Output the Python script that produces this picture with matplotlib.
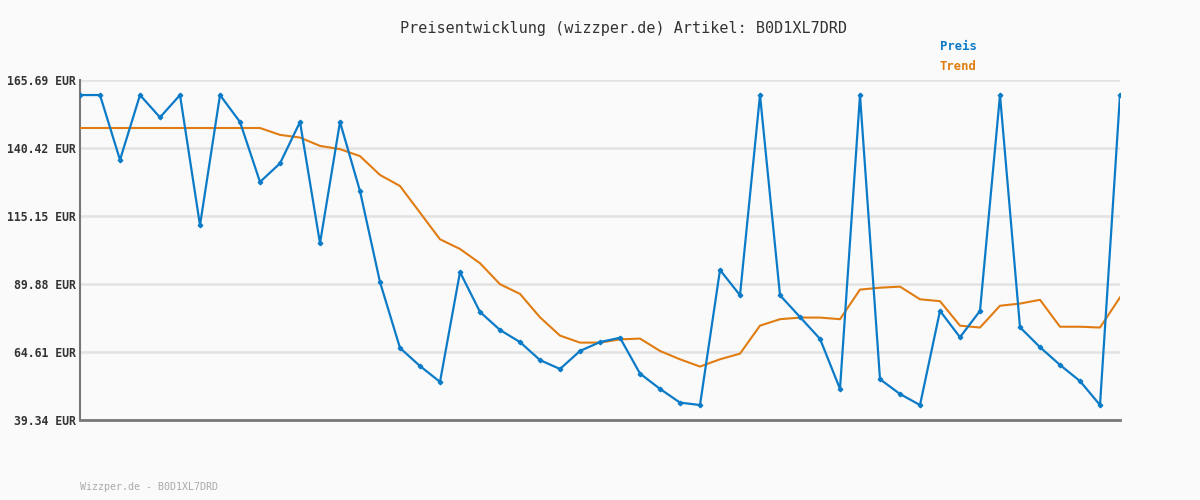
import numpy as np
import matplotlib
matplotlib.use("Agg")
import matplotlib.pyplot as plt

# price values (EUR), one per sample
preis = [160.1, 160.1, 136.0, 160.1, 151.8, 160.1, 111.7, 160.1, 150.1, 127.8,
         134.7, 150.1, 105.0, 150.1, 124.4, 90.6, 66.1, 59.4, 53.5, 94.3,
         79.5, 72.8, 68.3, 61.6, 58.3, 65.0, 68.3, 69.9, 56.6, 50.9,
         45.8, 44.9, 95.1, 85.7, 160.1, 85.7, 77.6, 69.5, 50.9, 160.1,
         54.5, 49.0, 44.9, 79.9, 70.1, 79.9, 160.1, 73.8, 66.4, 59.8,
         53.8, 44.9, 160.1]
trend = [147.85, 147.85, 147.85, 147.85, 147.85, 147.85, 147.85, 147.85, 147.85, 147.85,
         145.3, 144.3, 141.2, 140.0, 137.4, 130.4, 126.3, 116.4, 106.5, 102.9,
         97.6, 89.8, 86.2, 77.5, 70.7, 68.1, 68.1, 69.3, 69.6, 65.0,
         61.9, 59.2, 61.9, 64.0, 74.4, 76.8, 77.4, 77.4, 76.8, 87.8,
         88.5, 88.9, 84.2, 83.5, 74.4, 73.7, 81.8, 82.6, 84.0, 74.0,
         74.0, 73.7, 84.9]
yticks = [39.34, 64.61, 89.88, 115.15, 140.42, 165.69]
ytick_labels = ["%.2f EUR" % v for v in yticks]

blue = "#0b7bc8"
orange = "#e07c12"
bg = "#fafafa"
mono = ["DejaVu Sans Mono"]

fig = plt.figure(figsize=(12, 5), dpi=100, facecolor=bg)
ax = fig.add_axes([80 / 1200, 80 / 500, 1040 / 1200, 340 / 500], facecolor=bg)

x = np.arange(len(preis))
ax.plot(x, trend, color=orange, lw=1.5, zorder=3)
ax.plot(x, preis, color=blue, lw=1.6, marker="D", markersize=2.3, zorder=4)

ax.set_xlim(0, len(preis) - 1)
ax.set_ylim(yticks[0], yticks[-1])
ax.set_yticks(yticks)
ax.set_yticklabels(ytick_labels, family=mono, fontsize=8.3, fontweight="bold",
                   color="#333333")
ax.set_xticks([])
ax.tick_params(axis="y", length=0, pad=3)
ax.yaxis.grid(True, color="#e3e3e3", lw=1.8, zorder=0)
ax.set_axisbelow(True)
for side in ("top", "right"):
    ax.spines[side].set_visible(False)
ax.spines["left"].set_color("#777777")
ax.spines["left"].set_linewidth(1.5)
ax.spines["bottom"].set_color("#777777")
ax.spines["bottom"].set_linewidth(2)

fig.text(624 / 1200, 1 - 28 / 500, "Preisentwicklung (wizzper.de) Artikel: B0D1XL7DRD",
         family=mono, fontsize=10.9, color="#333333", ha="center", va="center")
fig.text(940 / 1200, 1 - 47 / 500, "Preis", family=mono, fontsize=8.8, fontweight="bold",
         color=blue, ha="left", va="center")
fig.text(940 / 1200, 1 - 67 / 500, "Trend", family=mono, fontsize=8.8, fontweight="bold",
         color=orange, ha="left", va="center")
fig.text(80 / 1200, 1 - 487 / 500, "Wizzper.de - B0D1XL7DRD", family=mono, fontsize=7.2,
         color="#aaaaaa", ha="left", va="center")

fig.savefig("out.png", dpi=100, facecolor=bg)
